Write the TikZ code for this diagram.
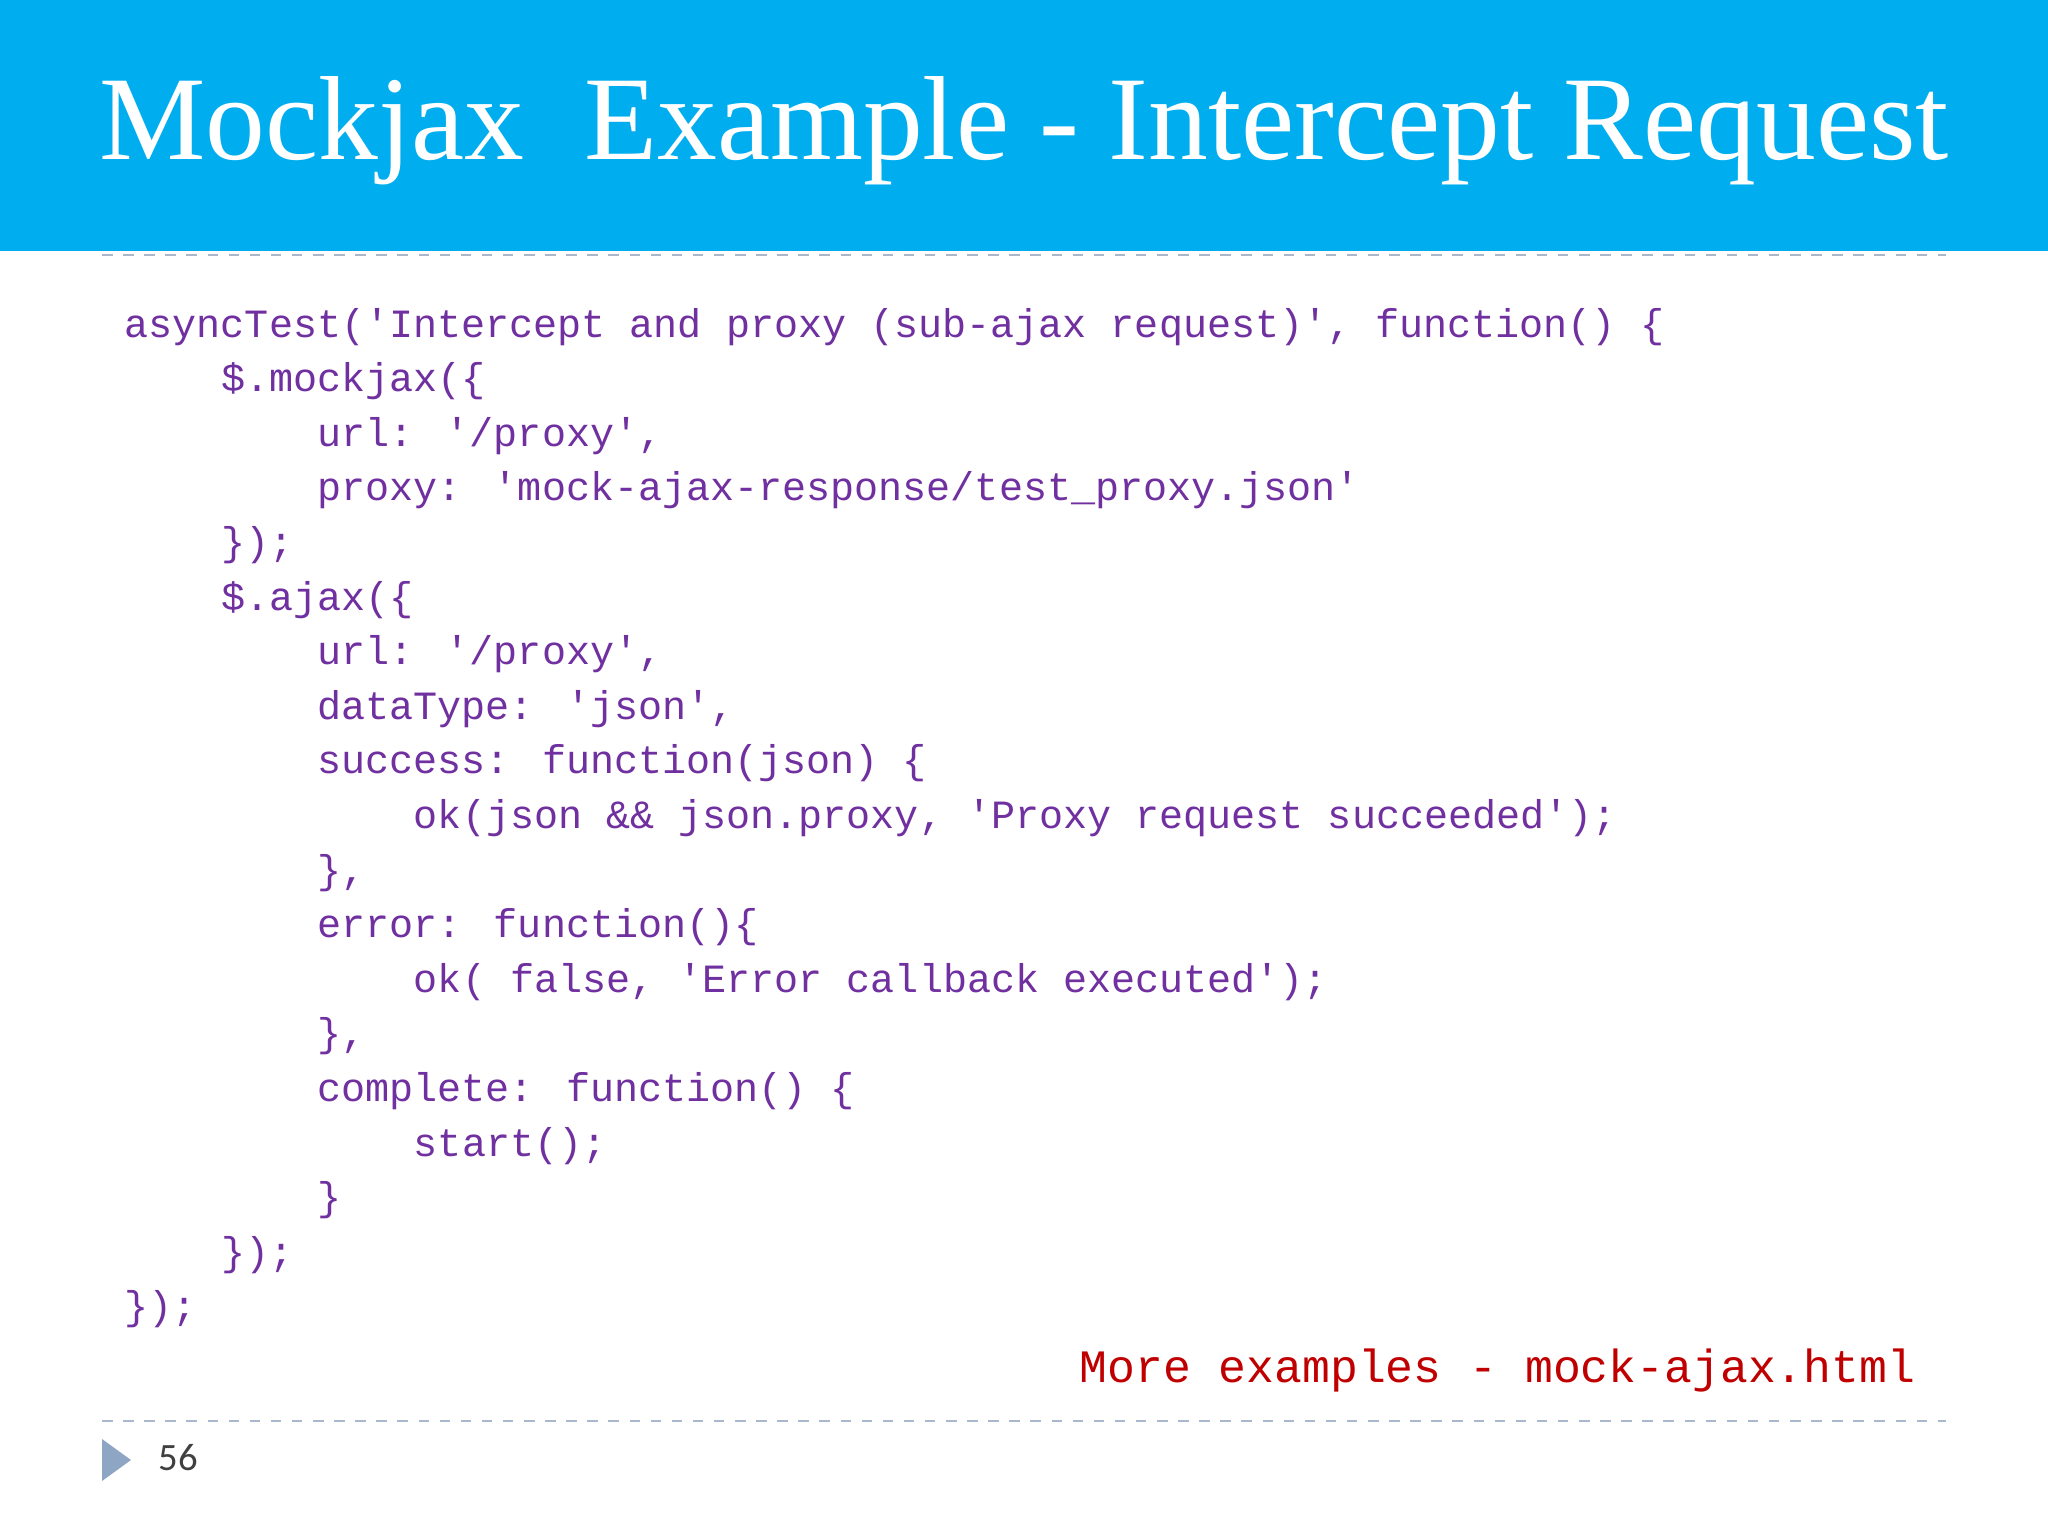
\documentclass[tikz,border=0pt]{standalone}
\usepackage{fontspec}
\setmainfont{Liberation Serif}
\newfontfamily\codefont{Liberation Mono}
\newfontfamily\numfont{Carlito}
\definecolor{hdr}{HTML}{00AEEF}
\definecolor{code}{HTML}{7030A0}
\definecolor{more}{HTML}{C00000}
\definecolor{rule}{HTML}{A9B8CC}
\definecolor{tri}{HTML}{8EA6C4}
\tikzset{cl/.style={anchor=base west,inner sep=0pt,text=code,font=\codefont\fontsize{11.4pt}{14pt}\selectfont}}
\begin{document}
\begin{tikzpicture}[x=0.01cm,y=-0.01cm]
\useasboundingbox (0,0) rectangle (2048,1536);
\fill[white] (0,0) rectangle (2048,1536);
\fill[hdr] (0,0) rectangle (2048,251);
\node[text=white,font=\fontsize{34pt}{40pt}\selectfont] (title) at (1024,131) {Mockjax\ \ Example - Intercept Request};
\draw[rule,dashed,line width=0.6pt] (102,255) -- (1946,255);
\draw[rule,dashed,line width=0.6pt] (102,1421) -- (1946,1421);
\def\cw{24.1}
\foreach \i/\ind/\t in {
0/0/{asyncTest('Intercept and proxy (sub-ajax request)', function() \{},
1/4/{\$.mockjax(\{},
2/8/{url: '/proxy',},
3/8/{proxy: 'mock-ajax-response/test\_proxy.json'},
4/4/{\});},
5/4/{\$.ajax(\{},
6/8/{url: '/proxy',},
7/8/{dataType: 'json',},
8/8/{success: function(json) \{},
9/12/{ok(json \&\& json.proxy, 'Proxy request succeeded');},
10/8/{\},},
11/8/{error: function()\{},
12/12/{ok( false, 'Error callback executed');},
13/8/{\},},
14/8/{complete: function() \{},
15/12/{start();},
16/8/{\}},
17/4/{\});},
18/0/{\});}}
{\node[cl] (l\i) at ({124+\ind*\cw},{337+\i*54.6}) {\t};}
\node[anchor=base east,inner sep=0pt,text=more,font=\codefont\fontsize{13.2pt}{16pt}\selectfont] (more) at (1916,1382) {More examples - mock-ajax.html};
\fill[tri] (102,1439) -- (131,1460) -- (102,1481) -- cycle;
\node[anchor=base west,inner sep=0pt,text=black!75,font=\numfont\fontsize{11pt}{13pt}\selectfont] (num) at (158,1470) {56};
\end{tikzpicture}
\end{document}
